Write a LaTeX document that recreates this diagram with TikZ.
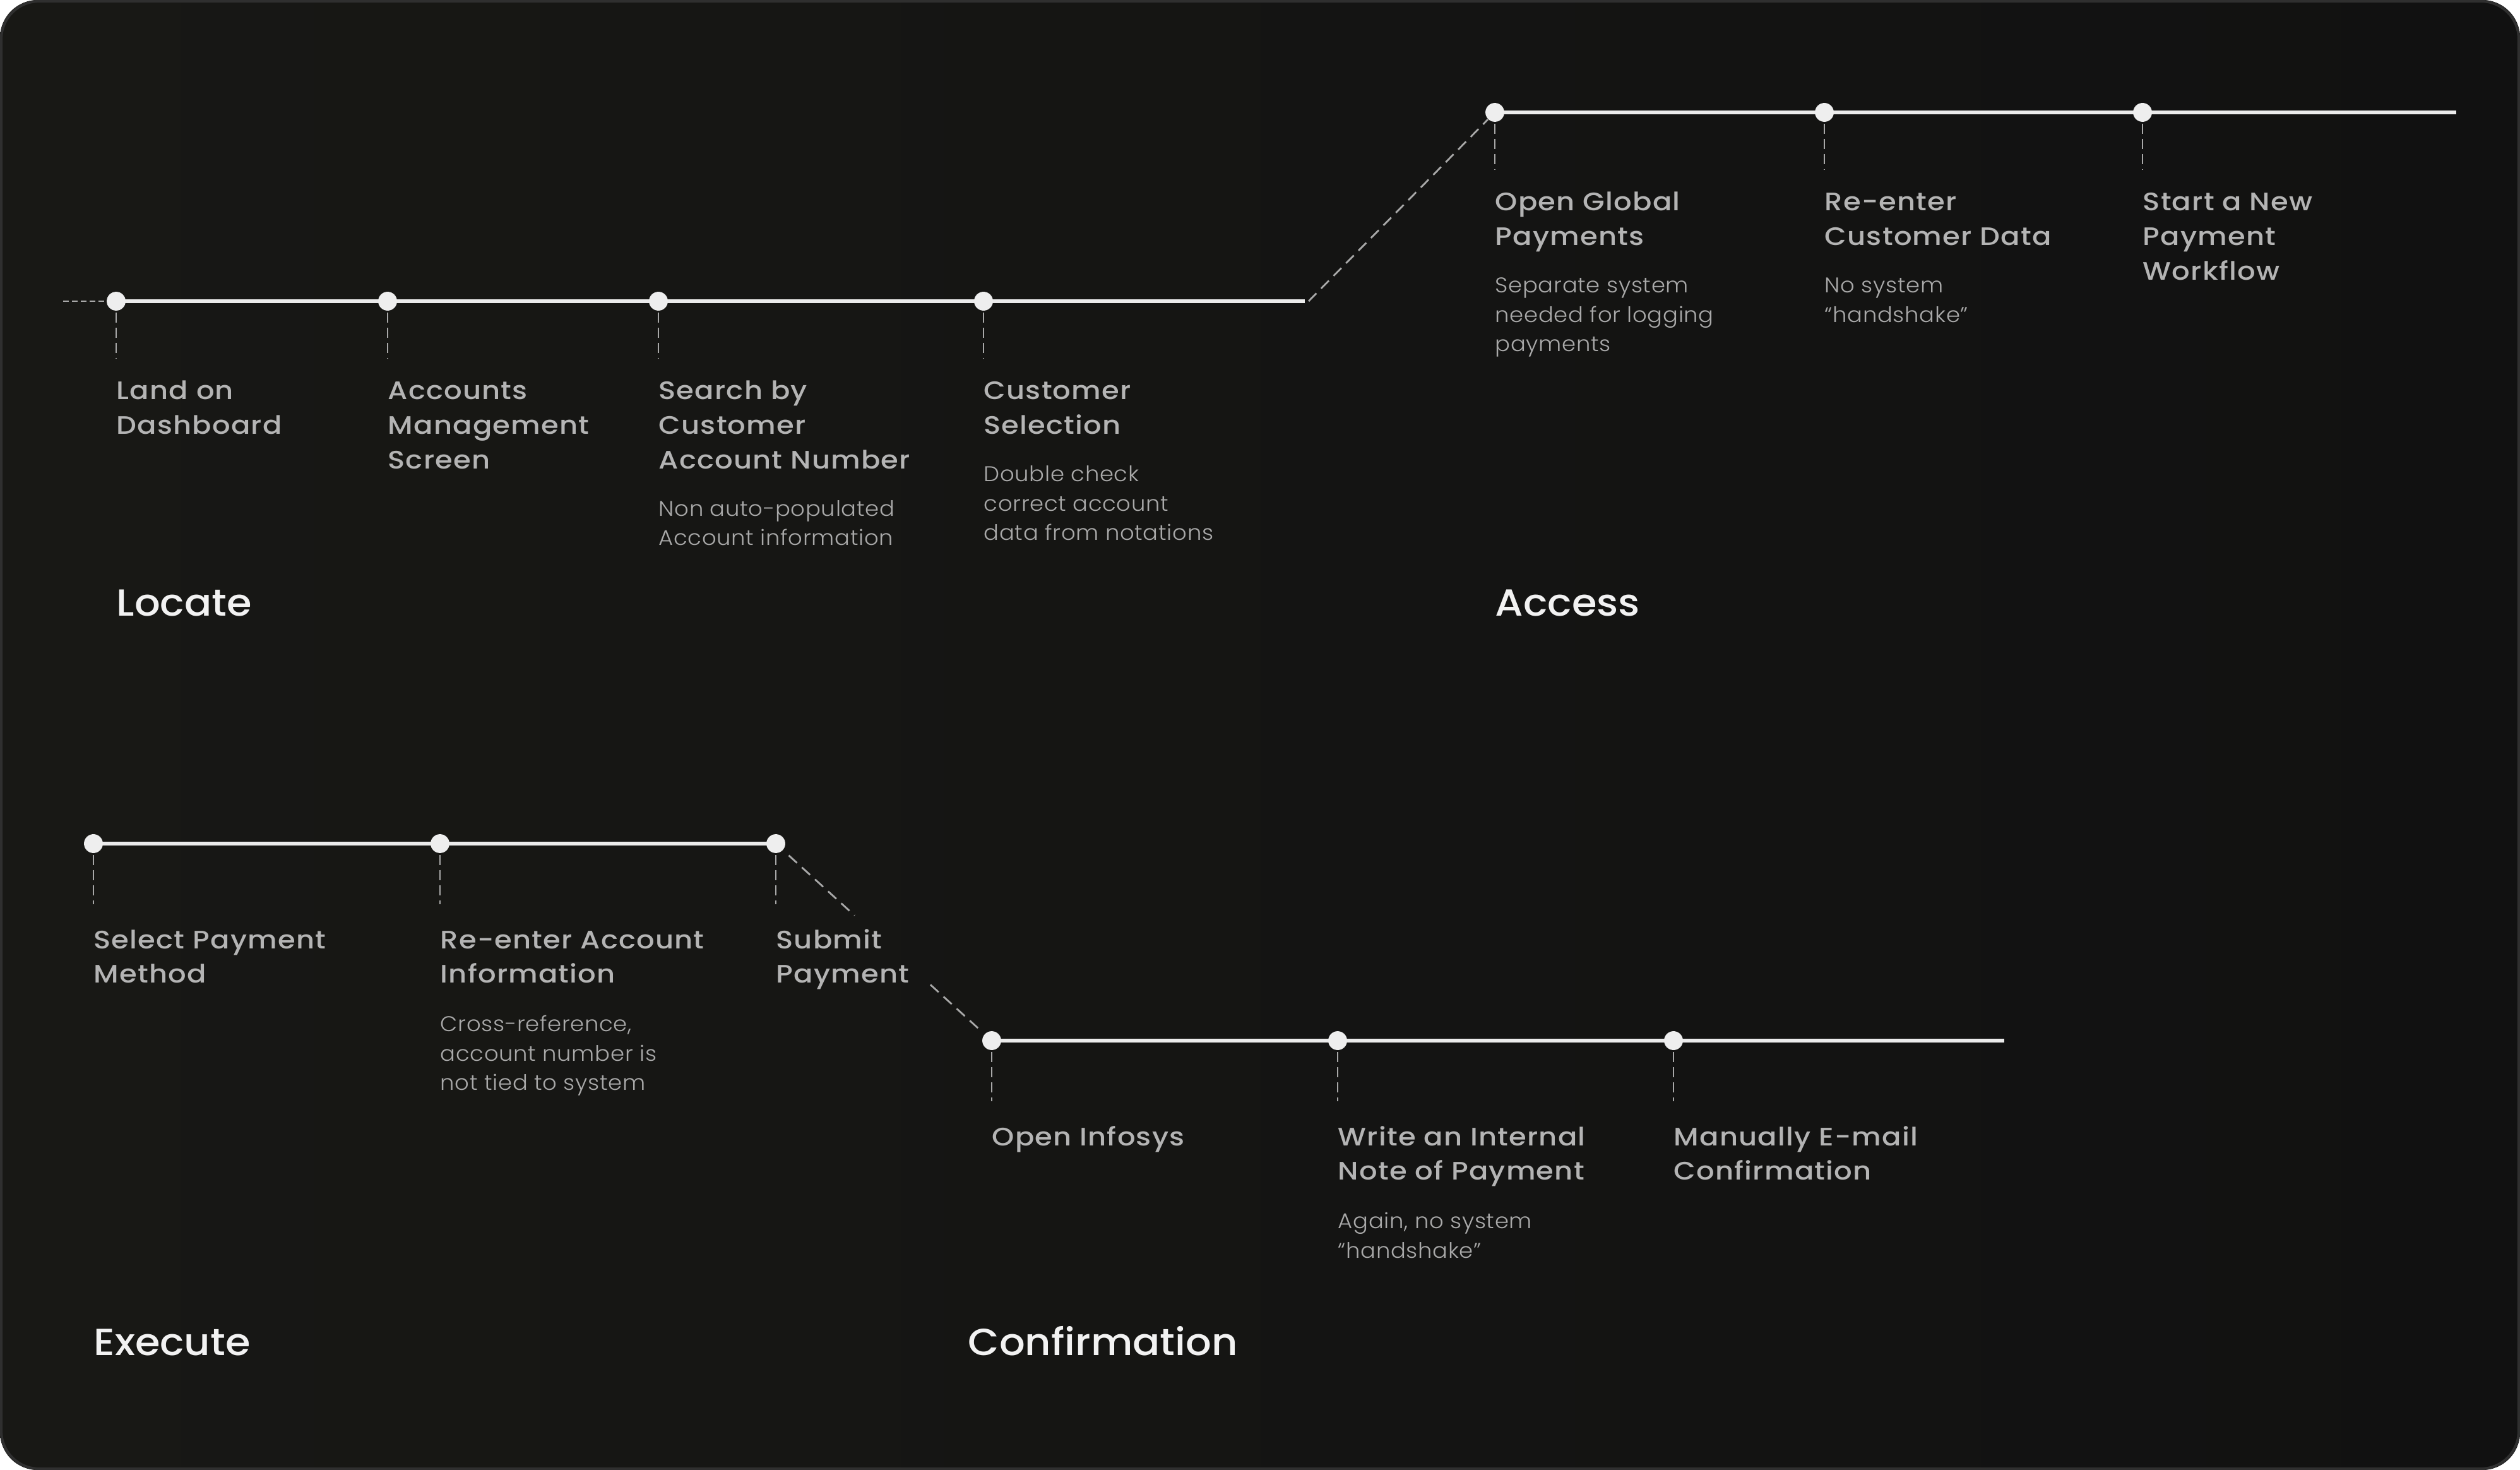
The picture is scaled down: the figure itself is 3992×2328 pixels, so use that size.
\documentclass[tikz,border=0pt]{standalone}
\usepackage{fontspec}
\setmainfont{Poppins}
\newfontfamily\lblfont{Poppins Medium}[FakeStretch=1.12,LetterSpace=3]
\newfontfamily\ttlfont{Poppins Medium}[FakeStretch=1.07]
\newfontfamily\notefont{Poppins Light}[FakeStretch=1.05,LetterSpace=2]
\usetikzlibrary{calc}
\definecolor{bgA}{HTML}{181815}
\definecolor{bgB}{HTML}{111111}
\definecolor{framec}{HTML}{2F2F2F}
\definecolor{linec}{HTML}{EBEBEB}
\definecolor{dotc}{HTML}{EEEEEE}
\definecolor{tickc}{HTML}{A8A8A8}
\definecolor{lblc}{HTML}{B4B4B4}
\definecolor{notec}{HTML}{A9A9A9}
\definecolor{titlec}{HTML}{F2F2F2}
\newcommand{\stack}[1]{\begin{tabular}[t]{@{}l@{}}#1\end{tabular}}
\pgfdeclarelayer{back}
\pgfdeclarelayer{tracks}
\pgfsetlayers{back,tracks,main}
\begin{document}
\begin{tikzpicture}[x=0.1mm,y=-0.1mm,
  dot/.style={circle,fill=dotc,inner sep=0pt,minimum size=8.5pt},
  track/.style={draw=linec,line width=1.55pt},
  tick/.style={draw=tickc,line width=0.75pt,dash pattern=on 4.5pt off 2.3pt},
  link/.style={draw=tickc,line width=0.8pt,dash pattern=on 5pt off 3pt},
  lbl/.style={anchor=base west,inner sep=0pt,text=lblc,font=\lblfont\fontsize{11.4pt}{15.6pt}\selectfont},
  note/.style={anchor=base west,inner sep=0pt,text=notec,font=\notefont\fontsize{9.6pt}{13.1pt}\selectfont},
  ttl/.style={anchor=base west,inner sep=0pt,text=titlec,font=\ttlfont\fontsize{17pt}{20pt}\selectfont},
]
\useasboundingbox (0,0) rectangle (3992,2328);
\begin{pgfonlayer}{back}
  \fill[white] (0,0) rectangle (3992,2328);
  \shade[rounded corners=17pt,left color=bgA,right color=bgB] (0,0) rectangle (3992,2328);
  \draw[framec,line width=1.2pt,rounded corners=17pt] (2,2) rectangle (3990,2326);
\end{pgfonlayer}

% ---------- Row A : Locate ----------
\node[dot] (a1) at (184,477) {};
\node[dot] (a2) at (614,477) {};
\node[dot] (a3) at (1043,477) {};
\node[dot] (a4) at (1558,477) {};
\coordinate (astart) at (100,477);
\coordinate (aend) at (2067,477);

% ---------- Row B : Access ----------
\node[dot] (b1) at (2368,178) {};
\node[dot] (b2) at (2890,178) {};
\node[dot] (b3) at (3394,178) {};
\coordinate (bend) at (3891,178);

% ---------- Row C : Execute ----------
\node[dot] (c1) at (148,1336) {};
\node[dot] (c2) at (697,1336) {};
\node[dot] (c3) at (1229,1336) {};

% ---------- Row D : Confirmation ----------
\node[dot] (d1) at (1571,1648) {};
\node[dot] (d2) at (2119,1648) {};
\node[dot] (d3) at (2651,1648) {};
\coordinate (dend) at (3175,1648);

\begin{pgfonlayer}{tracks}
  \draw[track] (a1.center) -- (aend);
  \draw[track] (b1.center) -- (bend);
  \draw[track] (c1.center) -- (c3.center);
  \draw[track] (d1.center) -- (dend);
  \draw[link,dash pattern=on 2.5pt off 1.5pt] (astart) -- (a1.center);
  \draw[link] ($(aend)+(6,0)$) -- (b1);
  \draw[link] ($(c3)!0.06!(d1)$) -- ($(c3)!0.365!(d1)$);
  \draw[link] ($(c3)!0.716!(d1)$) -- ($(c3)!0.945!(d1)$);
  \foreach \p in {a1,a2,a3,a4,b1,b2,b3}
    \draw[tick] ($(\p)+(0,18)$) -- ($(\p)+(0,90)$);
  \foreach \p in {c1,c2,c3,d1,d2,d3}
    \draw[tick] ($(\p)+(0,18)$) -- ($(\p)+(0,96)$);
\end{pgfonlayer}

% labels row A
\node[lbl] (la1) at ($(a1)+(0,156)$) {\stack{Land on\\Dashboard}};
\node[lbl] (la2) at ($(a2)+(0,156)$) {\stack{Accounts\\Management\\Screen}};
\node[lbl] (la3) at ($(a3)+(0,156)$) {\stack{Search by\\Customer\\Account Number}};
\node[lbl] (la4) at ($(a4)+(0,156)$) {\stack{Customer\\Selection}};
\node[note] (na3) at ($(la3.south west)+(0,58)$) {\stack{Non auto-populated\\Account information}};
\node[note] (na4) at ($(la4.south west)+(0,58)$) {\stack{Double check\\correct account\\data from notations}};
\node[ttl] (tA) at (184,975) {Locate};

% labels row B
\node[lbl] (lb1) at ($(b1)+(0,156)$) {\stack{Open Global\\Payments}};
\node[lbl] (lb2) at ($(b2)+(0,156)$) {\stack{Re-enter\\Customer Data}};
\node[lbl] (lb3) at ($(b3)+(0,156)$) {\stack{Start a New\\Payment\\Workflow}};
\node[note] (nb1) at ($(lb1.south west)+(0,58)$) {\stack{Separate system\\needed for logging\\payments}};
\node[note] (nb2) at ($(lb2.south west)+(0,58)$) {\stack{No system\\“handshake”}};
\node[ttl] (tB) at (2368,975) {Access};

% labels row C
\node[lbl] (lc1) at ($(c1)+(0,166)$) {\stack{Select Payment\\Method}};
\node[lbl] (lc2) at ($(c2)+(0,166)$) {\stack{Re-enter Account\\Information}};
\node[lbl] (lc3) at ($(c3)+(0,166)$) {\stack{Submit\\Payment}};
\node[note] (nc2) at ($(lc2.south west)+(0,60)$) {\stack{Cross-reference,\\account number is\\not tied to system}};
\node[ttl] (tC) at (148,2146) {Execute};

% labels row D
\node[lbl] (ld1) at ($(d1)+(0,166)$) {\stack{Open Infosys}};
\node[lbl] (ld2) at ($(d2)+(0,166)$) {\stack{Write an Internal\\Note of Payment}};
\node[lbl] (ld3) at ($(d3)+(0,166)$) {\stack{Manually E-mail\\Confirmation}};
\node[note] (nd2) at ($(ld2.south west)+(0,60)$) {\stack{Again, no system\\“handshake”}};
\node[ttl] (tD) at (1533,2146) {Confirmation};
\end{tikzpicture}
\end{document}
